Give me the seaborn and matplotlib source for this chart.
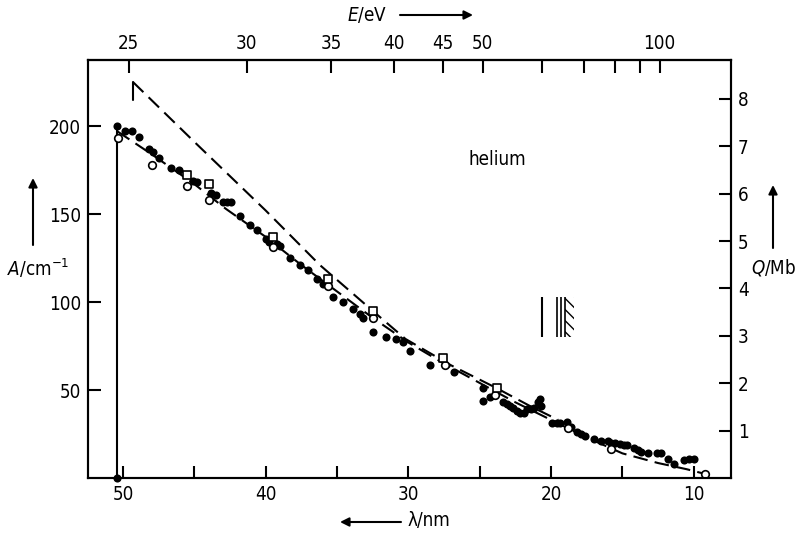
import numpy as np
import pandas as pd
import matplotlib
matplotlib.use("Agg")
import matplotlib.pyplot as plt
from matplotlib import font_manager
import seaborn as sns

# ---------------- data ----------------
# filled circles: wavelength (nm) and absorption coefficient A (cm^-1)
lam_filled = [50.42, 50.42, 49.86, 49.4, 48.9, 48.2, 47.9, 47.5, 46.6, 46.1, 45.1, 44.8,
              43.8, 43.5, 43.0, 42.7, 42.4, 41.8, 41.1, 40.6, 40.0, 39.8, 39.2, 39.0,
              38.3, 37.6, 37.0, 36.4, 36.0, 35.3, 34.6, 33.9, 33.4, 33.2, 32.5, 31.6,
              30.9, 30.4, 29.9, 28.5, 26.8, 24.8, 24.8, 24.3, 23.4, 23.1, 22.9, 22.7,
              22.4, 22.2, 21.9, 21.7, 21.4, 21.2, 20.9, 20.7, 20.8, 19.9, 19.6, 19.4,
              18.9, 18.6, 18.2, 17.9, 17.6, 17.0, 16.5, 16.0, 15.8, 15.5, 15.2, 14.9,
              14.7, 14.2, 13.9, 13.7, 13.2, 12.6, 12.3, 11.8, 11.4, 10.7, 10.3, 10.0]
A_filled = [200, 0, 197, 197, 194, 187, 185, 182, 176, 175, 169, 168,
            162, 161, 157, 157, 157, 149, 144, 141, 136, 134, 133, 132,
            125, 121, 118, 113, 110, 103, 100, 96, 93, 91, 83, 80,
            79, 77, 72, 64, 60, 51, 44, 46, 43, 42, 41, 40,
            38, 37, 37, 39, 39, 40, 43, 41, 45, 31, 31, 31,
            32, 29, 26, 25, 24, 22, 21, 21, 20, 20, 19.5, 19,
            19, 17, 16, 15, 14, 14, 14, 11, 8, 10, 11, 11]

# open circles
lam_open = [50.35, 48.0, 45.5, 44.0, 39.5, 35.6, 32.5, 27.4, 23.9, 18.8, 15.8, 9.2]
A_open = [193, 178, 166, 158, 131, 109, 91, 64, 47, 28.5, 16.7, 2.5]

# open squares
lam_square = [45.5, 44.0, 39.5, 35.6, 32.5, 27.6, 23.8]
A_square = [172, 167, 137, 113, 95, 68, 51]

# dashed curve through the data
lam_curve_low = [50.4, 48, 45, 42.8, 40, 37.5, 35, 32.5, 30, 27.5, 25, 22.5, 20, 17.5, 15, 12.5, 10.5, 9.3]
A_curve_low = [197, 184, 167, 153, 137, 121, 106, 91, 77, 65, 54, 43, 33, 23, 14, 8.5, 5, 2.5]

# upper dashed curve (begins with a short vertical step)
lam_curve_up = [49.3, 49.3, 45, 40, 36.2, 32.5, 30.2, 27, 23.8, 21.5, 19.5]
A_curve_up = [215, 225, 191, 152, 121, 95, 79, 64, 51, 41, 33]

# ionisation threshold line
lam_edge = [50.42, 50.42]
A_edge = [0, 200]

# energy ticks on the top axis (eV)
E_ticks = [25, 30, 35, 40, 45, 50, 60, 70, 80, 90, 100]
E_labels = ["25", "30", "35", "40", "45", "50", "", "", "", "", "100"]
lam_ticks = [50, 45, 40, 35, 30, 25, 20, 15, 10]
lam_labels = ["50", "", "40", "", "30", "", "20", "", "10"]
A_ticks = [50, 100, 150, 200]
Q_ticks = [1, 2, 3, 4, 5, 6, 7, 8]

HC = 1239.84  # eV nm

# ---------------- style ----------------
sns.set_style("ticks")
names = {f.name for f in font_manager.fontManager.ttflist}
if "Liberation Sans Narrow" in names:
    MAIN = "Liberation Sans Narrow"
    STRETCH = "normal"
else:
    MAIN = "DejaVu Sans"
    STRETCH = "condensed"
plt.rcParams["font.family"] = [MAIN, "DejaVu Sans"]
plt.rcParams["font.stretch"] = STRETCH
plt.rcParams["mathtext.fontset"] = "custom"
plt.rcParams["mathtext.rm"] = MAIN
plt.rcParams["mathtext.it"] = MAIN + ":italic"
plt.rcParams["axes.linewidth"] = 1.5
for key in ("text.color", "axes.edgecolor", "axes.labelcolor", "xtick.color",
            "ytick.color", "xtick.labelcolor", "ytick.labelcolor"):
    plt.rcParams[key] = "black"
FS = 13.5

W, H = 802, 535
fig = plt.figure(figsize=(W / 100, H / 100), dpi=100)
ax = fig.add_axes([88 / W, 1 - 478 / H, (731 - 88) / W, (478 - 60) / H])

# ---------------- marks ----------------
sns.lineplot(x=lam_edge, y=A_edge, sort=False, estimator=None, color="black",
             linewidth=1.5, ax=ax)
sns.lineplot(x=lam_curve_low, y=A_curve_low, sort=False, estimator=None, color="black",
             linewidth=1.5, linestyle=(0, (7, 3.5)), ax=ax)
sns.lineplot(x=lam_curve_up[:2], y=A_curve_up[:2], sort=False, estimator=None,
             color="black", linewidth=1.5, ax=ax)
sns.lineplot(x=lam_curve_up[1:], y=A_curve_up[1:], sort=False, estimator=None,
             color="black", linewidth=1.5, linestyle=(0, (7, 3.5)), ax=ax)

sns.scatterplot(x=lam_filled, y=A_filled, color="black", s=34, linewidth=0, ax=ax,
                zorder=4, clip_on=False)
sns.scatterplot(x=lam_open, y=A_open, color="white", edgecolor="black", s=30,
                linewidth=1.2, ax=ax, zorder=5)
sns.scatterplot(x=lam_square, y=A_square, marker="s", color="white", edgecolor="black",
                s=30, linewidth=1.2, ax=ax, zorder=5)

# threshold symbol (single line, triple line with hatching)
sym_lo, sym_hi = 80, 103
ax.vlines([20.64], sym_lo, sym_hi, color="black", lw=1.5)
ax.vlines([19.6, 19.3, 19.0], sym_lo, sym_hi, color="black", lw=1.2)
ax.fill_betweenx([sym_lo, sym_hi], 19.0, 18.4, facecolor="white", edgecolor="black",
                 hatch="\\\\\\", linewidth=0)

ax.text(0.636, 0.761, "helium", transform=ax.transAxes, fontsize=FS, ha="center",
        va="center")

# ---------------- axes ----------------
ax.set_xlim(52.45, 7.39)
ax.set_ylim(0, 237.5)
ax.set_xticks(lam_ticks)
ax.set_xticklabels(lam_labels)
ax.set_yticks(A_ticks)
ax.tick_params(axis="both", direction="in", length=9, width=1.5, labelsize=FS, pad=5)
ax.set_xlabel("")
ax.set_ylabel("")
for s in ax.spines.values():
    s.set_visible(True)
    s.set_color("black")

ax2 = ax.twinx()
ax2.set_ylim(0, 8.82)
ax2.set_yticks(Q_ticks)
ax2.tick_params(axis="y", direction="in", length=9, width=1.5, labelsize=FS, pad=5)

top = ax.secondary_xaxis("top", functions=(lambda l: HC / np.asarray(l, float),
                                           lambda e: HC / np.asarray(e, float)))
top.set_xticks(E_ticks)
top.set_xticklabels(E_labels)
top.tick_params(axis="x", direction="in", length=9, width=1.5, labelsize=FS, pad=5)

# ---------------- axis titles with arrows ----------------
def arrow(x0, y0, x1, y1):
    ax.annotate("", xy=(x1, H - y1), xytext=(x0, H - y0), xycoords="figure pixels",
                textcoords="figure pixels",
                arrowprops=dict(arrowstyle="-|>", lw=1.5, color="black",
                                mutation_scale=13, shrinkA=0, shrinkB=0))

fig.text(347 / W, 1 - 15 / H, r"$E$/eV", fontsize=FS, ha="left", va="center")
arrow(400, 15, 473, 15)

fig.text(408 / W, 1 - 520 / H, "λ/nm", fontsize=FS, ha="left", va="center")
arrow(401, 522, 340, 522)

fig.text(7 / W, 1 - 268 / H, r"$A$/cm$^{-1}$", fontsize=FS, ha="left", va="center")
arrow(33, 245, 33, 178)

fig.text(751 / W, 1 - 267 / H, r"$Q$/Mb", fontsize=FS, ha="left", va="center")
arrow(773, 248, 773, 185)

fig.savefig("out.png", dpi=100)
